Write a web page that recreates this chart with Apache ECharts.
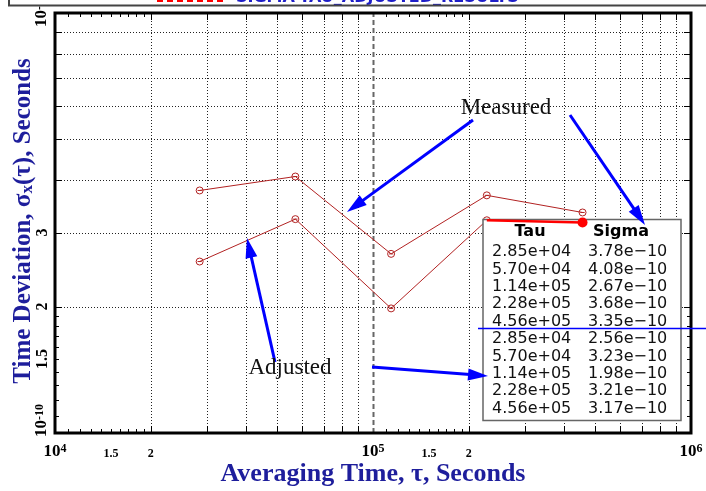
<!DOCTYPE html>
<html><head><meta charset="utf-8">
<script src="https://cdn.jsdelivr.net/npm/echarts@6/dist/echarts.min.js"></script>
<style>html,body{margin:0;padding:0;background:#fff}#c{width:706px;height:491px}</style>
</head><body><div id="c"></div>
<script>
// ---- data ----
const tau = [2.85e4, 5.70e4, 1.14e5, 2.28e5, 4.56e5];
const sigmaMeasured = [3.78e-10, 4.08e-10, 2.67e-10, 3.68e-10, 3.35e-10];
const sigmaAdjusted = [2.56e-10, 3.23e-10, 1.98e-10, 3.21e-10, 3.17e-10];

const xMin = 1e4, xMax = 1e6, yMin = 1e-10, yMax = 1e-9;
const xGridVals = [2e4,3e4,4e4,5e4,6e4,7e4,8e4,9e4,2e5,3e5,4e5,5e5,6e5,7e5,8e5,9e5];
const xDecadeVals = [1e5];
const xMinorTickVals = [1.1e4,1.2e4,1.3e4,1.4e4,1.5e4,1.6e4,1.7e4,1.8e4,1.9e4,1.1e5,1.2e5,1.3e5,1.4e5,1.5e5,1.6e5,1.7e5,1.8e5,1.9e5];
const yGridVals = [2e-10,3e-10,4e-10,5e-10,6e-10,7e-10,8e-10,9e-10];
const yMinorTickVals = [1.1e-10,1.2e-10,1.3e-10,1.4e-10,1.5e-10,1.6e-10,1.7e-10,1.8e-10,1.9e-10];
const xTickLabelVals = [1e4, 1.5e4, 2e4, 1e5, 1.5e5, 2e5, 1e6];
const xTickLabels = ['10^4', '1.5', '2', '10^5', '1.5', '2', '10^6'];
const yTickLabelVals = [1e-10, 1.5e-10, 2e-10, 3e-10, 1e-9];
const yTickLabels = ['10^-10', '1.5', '2', '3', '10^-9'];

const xTitle = 'Averaging Time, τ, Seconds';
const tableHeader = ['Tau', 'Sigma'];
const noteMeasured = 'Measured';
const noteAdjusted = 'Adjusted';
const topTitle = 'SIGMA-TAU_ADJUSTED_RESULTS';

// ---- styles ----
const F = '"Liberation Serif", "Times New Roman", serif';
const TC = '#1e1e9c';
const LC = '#b22222';
const MARK = 'path://M0,5 A5,5 0 1,1 10,5 A5,5 0 1,1 0,5 Z M2,5 L8,5';
const richTick = {
  b: {fontFamily: F, fontWeight: 'bold', fontSize: 17, lineHeight: 17, padding: [4,0,0,0], verticalAlign: 'bottom', fill: '#000'},
  s: {fontFamily: F, fontWeight: 'bold', fontSize: 12, lineHeight: 12, verticalAlign: 'top', fill: '#000'},
  mx: {fontFamily: F, fontWeight: 'bold', fontSize: 12, lineHeight: 17, padding: [4,0,0,0], verticalAlign: 'bottom', fill: '#000'},
  my: {fontFamily: F, fontWeight: 'bold', fontSize: 16, lineHeight: 17, padding: [4,0,0,0], verticalAlign: 'bottom', fill: '#000'}
};
function tickRich(label, small) {
  const m = label.split('^');
  return m.length === 2 ? '{b|' + m[0] + '}{s|' + m[1] + '}' : '{' + small + '|' + label + '}';
}
function fmtExp(v) {
  const e = Math.floor(Math.log10(v) + 1e-9);
  const m = (v / Math.pow(10, e)).toFixed(2);
  const a = Math.abs(e);
  return m + 'e' + (e < 0 ? '\u2212' : '+') + (a < 10 ? '0' + a : '' + a);
}
const snap = v => Math.round(v) + 0.5;

function vLines(vals, style, z) {
  return {type: 'custom', coordinateSystem: 'cartesian2d', silent: true, z: z, clip: false,
    data: vals.map(v => [v, yMin]),
    renderItem(params, api) {
      const a = api.coord([api.value(0), yMin]), b = api.coord([api.value(0), yMax]);
      const x = snap(a[0]);
      return {type: 'line', shape: {x1: x, y1: a[1], x2: x, y2: b[1]}, style: style};
    }};
}
function hLines(vals, style, z) {
  return {type: 'custom', coordinateSystem: 'cartesian2d', silent: true, z: z, clip: false,
    data: vals.map(v => [xMin, v]),
    renderItem(params, api) {
      const a = api.coord([xMin, api.value(1)]), b = api.coord([xMax, api.value(1)]);
      const y = snap(a[1]);
      return {type: 'line', shape: {x1: a[0], y1: y, x2: b[0], y2: y}, style: style};
    }};
}
function xTicks(vals, len) {
  return {type: 'custom', coordinateSystem: 'cartesian2d', silent: true, z: 6, clip: false,
    data: vals.map(v => [v, yMin]),
    renderItem(params, api) {
      const a = api.coord([api.value(0), yMin]), b = api.coord([api.value(0), yMax]);
      const x = snap(a[0]);
      const st = {stroke: '#000', lineWidth: 1};
      return {type: 'group', children: [
        {type: 'line', shape: {x1: x, y1: a[1], x2: x, y2: a[1] - len}, style: st},
        {type: 'line', shape: {x1: x, y1: b[1], x2: x, y2: b[1] + len}, style: st}]};
    }};
}
function yTicks(vals, len) {
  return {type: 'custom', coordinateSystem: 'cartesian2d', silent: true, z: 6, clip: false,
    data: vals.map(v => [xMin, v]),
    renderItem(params, api) {
      const a = api.coord([xMin, api.value(1)]), b = api.coord([xMax, api.value(1)]);
      const y = snap(a[1]);
      const st = {stroke: '#000', lineWidth: 1};
      return {type: 'group', children: [
        {type: 'line', shape: {x1: a[0], y1: y, x2: a[0] + len, y2: y}, style: st},
        {type: 'line', shape: {x1: b[0], y1: y, x2: b[0] - len, y2: y}, style: st}]};
    }};
}
function arrow(x1, y1, x2, y2) {
  const dx = x2 - x1, dy = y2 - y1, L = Math.hypot(dx, dy);
  const ux = dx / L, uy = dy / L, hl = 20, hw = 6;
  const bx = x2 - ux * hl, by = y2 - uy * hl;
  return [
    {type: 'line', z: 70, shape: {x1: x1, y1: y1, x2: bx + ux * 2, y2: by + uy * 2}, style: {stroke: '#0000ff', lineWidth: 3}},
    {type: 'polygon', z: 70, shape: {points: [[x2, y2], [bx - uy * hw, by + ux * hw], [bx + uy * hw, by - ux * hw]]}, style: {fill: '#0000ff'}}
  ];
}

// ---- table graphic ----
const tableEls = [];
tableEls.push({type: 'rect', z: 50, shape: {x: 483, y: 219.5, width: 198, height: 201}, style: {fill: '#fff', stroke: '#666', lineWidth: 1.5}});
tableEls.push({type: 'text', z: 51, x: 530, y: 232, style: {text: tableHeader[0], font: 'bold 16px "DejaVu Sans"', fill: '#000', align: 'center', verticalAlign: 'middle'}});
tableEls.push({type: 'text', z: 51, x: 621, y: 232, style: {text: tableHeader[1], font: 'bold 16px "DejaVu Sans"', fill: '#000', align: 'center', verticalAlign: 'middle'}});
const rowsTau = tau.concat(tau), rowsSig = sigmaMeasured.concat(sigmaAdjusted);
rowsTau.forEach((t, i) => {
  const y = 252 + i * 17.4;
  tableEls.push({type: 'text', z: 51, x: 492, y: y, style: {text: fmtExp(t), font: '16px "DejaVu Sans"', fill: '#111', align: 'left', verticalAlign: 'middle'}});
  tableEls.push({type: 'text', z: 51, x: 588, y: y, style: {text: fmtExp(rowsSig[i]), font: '16px "DejaVu Sans"', fill: '#111', align: 'left', verticalAlign: 'middle'}});
});

const graphics = [].concat(
  tableEls,
  [{type: 'line', z: 60, shape: {x1: 478, y1: 328.5, x2: 706, y2: 328.5}, style: {stroke: '#0000ff', lineWidth: 1.5}}],
  arrow(473, 120, 347, 212),
  arrow(570, 115, 645, 225),
  arrow(275, 362, 247, 238),
  arrow(372, 367, 488, 376),
  [
    {type: 'text', z: 70, x: 506, y: 108, style: {text: noteMeasured, font: '23px "Liberation Serif"', fill: '#111', align: 'center', verticalAlign: 'middle'}},
    {type: 'text', z: 70, x: 290, y: 368, style: {text: noteAdjusted, font: '23px "Liberation Serif"', fill: '#111', align: 'center', verticalAlign: 'middle'}},
    {type: 'text', z: 20, x: 373, y: 474, style: {text: xTitle, font: 'bold 26px "Liberation Serif"', fill: TC, align: 'center', verticalAlign: 'middle'}},
    {type: 'text', z: 20, x: 23.5, y: 221, rotation: Math.PI / 2, style: {
      text: '{t|Time Deviation, σ}{u|x}{t|(τ), Seconds}',
      rich: {t: {fontFamily: F, fontWeight: 'bold', fontSize: 25, lineHeight: 25, verticalAlign: 'top', fill: TC},
             u: {fontFamily: F, fontWeight: 'bold', fontSize: 17, lineHeight: 17, padding: [12,0,0,0], verticalAlign: 'bottom', fill: TC}},
      align: 'center', verticalAlign: 'middle'}},
    // top window frame fragment
    {type: 'rect', z: 80, shape: {x: 10, y: -20, width: 700, height: 25}, style: {fill: '#fff'}},
    {type: 'text', z: 82, x: 236, y: 6, style: {text: topTitle, font: 'bold 16px "DejaVu Sans"', fill: '#1e1ec8', align: 'left', verticalAlign: 'bottom'}},
    {type: 'line', z: 81, shape: {x1: 157, y1: 1, x2: 223, y2: 1}, style: {stroke: '#ff0000', lineWidth: 2, lineDash: [6, 4]}},
    {type: 'polyline', z: 83, shape: {points: [[9, -2], [9, 5.5], [706, 5.5]]}, style: {stroke: '#444', lineWidth: 2, fill: null}}
  ]
);

const chart = echarts.init(document.getElementById('c'), null, {renderer: 'canvas'});
chart.setOption({
  animation: false,
  backgroundColor: '#fff',
  grid: {left: 55, top: 13, right: 15, bottom: 58, show: true, borderColor: '#000', borderWidth: 3, backgroundColor: 'transparent', z: 10},
  xAxis: {type: 'log', logBase: 10, min: xMin, max: xMax, axisLine: {show: false}, axisTick: {show: false}, axisLabel: {show: false}, splitLine: {show: false}},
  yAxis: {type: 'log', logBase: 10, min: yMin, max: yMax, axisLine: {show: false}, axisTick: {show: false}, axisLabel: {show: false}, splitLine: {show: false}},
  graphic: graphics,
  series: [
    vLines(xGridVals, {stroke: '#222', lineWidth: 1, lineDash: [1, 2]}, 1),
    hLines(yGridVals, {stroke: '#222', lineWidth: 1, lineDash: [1, 2]}, 1),
    vLines(xDecadeVals, {stroke: '#666', lineWidth: 2, lineDash: [5, 3]}, 2),
    xTicks(xGridVals, 7), xTicks(xMinorTickVals, 4),
    yTicks(yGridVals, 7), yTicks(yMinorTickVals, 4),
    {type: 'custom', coordinateSystem: 'cartesian2d', silent: true, clip: false, z: 20,
      data: xTickLabelVals.map(v => [v, yMin]),
      renderItem(params, api) {
        const p = api.coord([api.value(0), yMin]);
        return {type: 'text', x: p[0], y: p[1] + 18.5, style: {text: tickRich(xTickLabels[params.dataIndex], 'mx'), rich: richTick, align: 'center', verticalAlign: 'middle'}};
      }},
    {type: 'custom', coordinateSystem: 'cartesian2d', silent: true, clip: false, z: 20,
      data: yTickLabelVals.map(v => [xMin, v]),
      renderItem(params, api) {
        const p = api.coord([xMin, api.value(1)]);
        let y = p[1], align = 'center';
        if (params.dataIndex === 0) { y = p[1] + 4; align = 'left'; }
        else if (params.dataIndex === yTickLabelVals.length - 1) { y = p[1] + 14; align = 'left'; }
        return {type: 'text', x: p[0] - 13, y: y, rotation: Math.PI / 2, style: {text: tickRich(yTickLabels[params.dataIndex], 'my'), rich: richTick, align: align, verticalAlign: 'middle'}};
      }},
    {name: 'Measured', type: 'line', z: 3, data: tau.map((t, i) => [t, sigmaMeasured[i]]),
      symbol: MARK, symbolSize: 7, lineStyle: {color: LC, width: 1}, itemStyle: {color: 'rgba(0,0,0,0)', borderColor: LC, borderWidth: 1}},
    {name: 'Adjusted', type: 'line', z: 3, data: tau.map((t, i) => [t, sigmaAdjusted[i]]),
      symbol: MARK, symbolSize: 7, lineStyle: {color: LC, width: 1}, itemStyle: {color: 'rgba(0,0,0,0)', borderColor: LC, borderWidth: 1}},
    {name: 'AdjustedLast', type: 'line', z: 60, data: tau.slice(3).map((t, i) => [t, sigmaAdjusted[3 + i]]),
      symbol: (v, p) => p.dataIndex === 1 ? 'circle' : 'none', symbolSize: 10, showSymbol: true,
      lineStyle: {color: '#ff0000', width: 2.5}, itemStyle: {color: '#ff0000'}}
  ]
});
</script>
</body></html>
